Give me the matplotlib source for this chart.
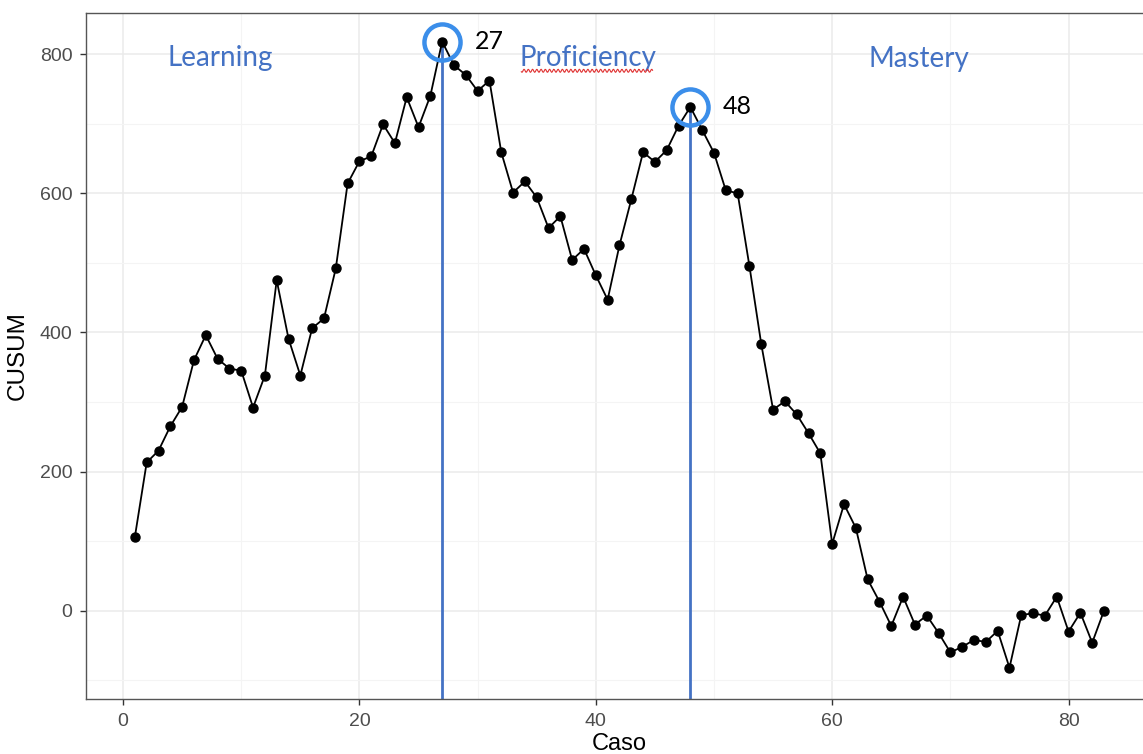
import numpy as np
import matplotlib
matplotlib.use("Agg")
import matplotlib.pyplot as plt
from matplotlib.ticker import MultipleLocator

# CUSUM per case
caso = list(range(1, 84))
cusum = [106, 213, 230, 265, 293, 360, 396, 362, 348, 345,
         292, 338, 475, 391, 338, 406, 420, 492, 614, 646,
         653, 699, 672, 738, 695, 740, 818, 784, 770, 747,
         762, 659, 601, 617, 594, 550, 567, 504, 520, 482,
         447, 525, 591, 659, 645, 662, 697, 724, 691, 658,
         604, 600, 495, 383, 289, 301, 282, 255, 226, 96,
         153, 119, 45, 13, -22, 20, -20, -7, -32, -60,
         -52, -42, -45, -29, -82, -6, -4, -7, 20, -30,
         -3, -46, 0]

peaks = [27, 48]
phases = ["Learning", "Proficiency", "Mastery"]
phase_x = [8.2, 39.3, 67.3]
phase_y = [795, 795, 793]

x_ticks = [0, 20, 40, 60, 80]
y_ticks = [0, 200, 400, 600, 800]

blue_txt = "#4472C4"
blue_circ = "#3b8eea"

fig = plt.figure(figsize=(11.43, 7.54), dpi=100)
ax = fig.add_axes([0.0756, 0.0729, 0.9327, 0.9098])

ax.set_xlim(-3.1, 87.1)
ax.set_ylim(-127, 859)

ax.xaxis.set_minor_locator(MultipleLocator(10))
ax.yaxis.set_minor_locator(MultipleLocator(100))
ax.set_xticks(x_ticks)
ax.set_yticks(y_ticks)
ax.grid(which="major", color="#ebebeb", lw=1.1)
ax.grid(which="minor", color="#f4f4f4", lw=0.8)
ax.set_axisbelow(True)
ax.tick_params(which="minor", length=0)
ax.tick_params(which="major", length=4.5, width=1, color="#333333",
               labelsize=14, labelcolor="#4d4d4d", pad=5.5)
for lab in ax.get_xticklabels() + ax.get_yticklabels():
    lab.set_family("Liberation Sans")
for sp in ax.spines.values():
    sp.set_color("#555555")
    sp.set_linewidth(1.0)

# vertical lines at the peaks
for p in peaks:
    ax.plot([p, p], [-127, cusum[p - 1]], color="#4472C4", lw=2.0, zorder=2)

ax.plot(caso, cusum, color="black", lw=1.3, marker="o", ms=6.5, zorder=3)

# circles around the peaks and their labels
for p in peaks:
    ax.plot(p, cusum[p - 1], marker="o", ms=26, mfc="none", mec=blue_circ,
            mew=3.2, zorder=4)
    ax.annotate(str(p), (p, cusum[p - 1]), xytext=(23.5, 0),
                textcoords="offset points", ha="left", va="center",
                fontsize=18, family="Lato", color="black")

for name, px, py in zip(phases, phase_x, phase_y):
    ax.text(px, py, name, ha="center", va="center", fontsize=20,
            family="Lato", color=blue_txt)

# spell-check squiggle under "Proficiency"
wx = np.linspace(33.7, 44.8, 200)
ax.plot(wx, 776 + 2.2 * np.sin(wx * 2 * np.pi / 0.36), color="#e03030",
        lw=0.8, zorder=4)

ax.set_xlabel("Caso", fontsize=17, family="Liberation Sans", labelpad=2.5)
ax.set_ylabel("CUSUM", fontsize=17.5, family="Liberation Sans", labelpad=8)

fig.savefig("out.png", dpi=100)
